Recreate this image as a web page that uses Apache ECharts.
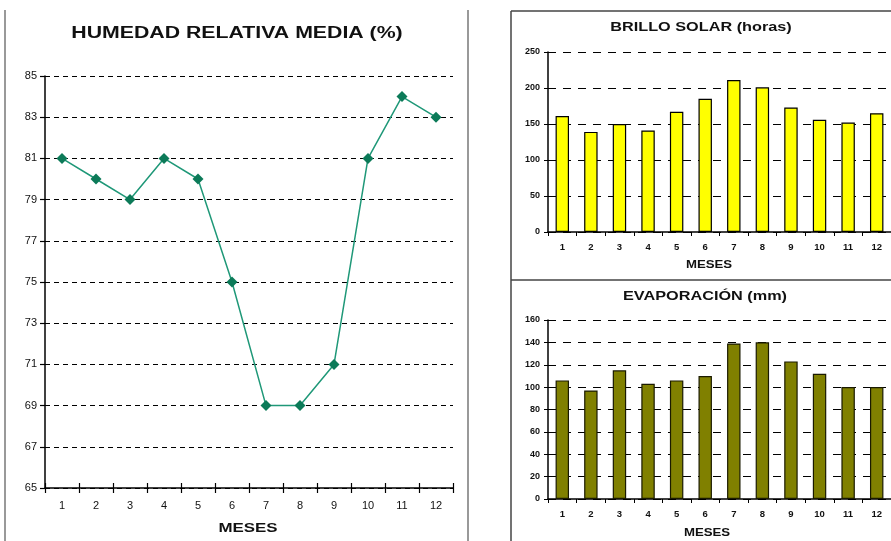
<!DOCTYPE html>
<html>
<head>
<meta charset="utf-8">
<script src="https://cdn.jsdelivr.net/npm/echarts@6/dist/echarts.min.js"></script>
<style>html,body{margin:0;padding:0;background:#fff;}#c{width:891px;height:541px;}</style>
</head>
<body>
<div id="c"></div>
<script>
const months = ['1','2','3','4','5','6','7','8','9','10','11','12'];
const humedad = [81, 80, 79, 81, 80, 75, 69, 69, 71, 81, 84, 83];
const brillo = [161, 139, 150, 141, 167, 185, 211, 201, 173, 156, 152, 165];
const evaporacion = [106, 97, 115, 103, 106, 110, 139, 140, 123, 112, 100, 100];
const humAxis = [65, 85, 2];
const brilloAxis = [0, 250, 50];
const evapAxis = [0, 160, 20];
const titles = ['HUMEDAD RELATIVA MEDIA (%)', 'BRILLO SOLAR (horas)', 'EVAPORACIÓN (mm)', 'MESES'];

const FONT = '"Liberation Sans", Arial, sans-serif';
const chart = echarts.init(document.getElementById('c'), null, {renderer: 'canvas'});

function yAx(gi, r, opts) {
  return Object.assign({
    type: 'value', gridIndex: gi, min: r[0], max: r[1], interval: r[2],
    axisLine: {show: true, lineStyle: {color: '#000', width: 1.5}},
    axisTick: {show: true, length: 5, lineStyle: {color: '#000', width: 1.2}},
    splitLine: {show: true, lineStyle: {color: '#000', type: [5, 4], width: 1.2}},
    axisLabel: {color: '#111', fontFamily: FONT, fontSize: 11, margin: 8}
  }, opts || {});
}
function xAx(gi, opts) {
  return Object.assign({
    type: 'category', gridIndex: gi, data: months, boundaryGap: true, position: 'bottom',
    axisLine: {show: true, lineStyle: {color: '#000', width: 1.5}},
    axisTick: {show: true, length: 5, lineStyle: {color: '#000', width: 1.2}},
    axisLabel: {color: '#111', fontFamily: FONT, fontSize: 11, margin: 12},
    splitLine: {show: false}
  }, opts || {});
}
function txt(t, x, y, size, sx) {
  return {type: 'text', x: x, y: y, scaleX: sx, silent: true,
    style: {text: t, font: 'bold ' + size + 'px ' + FONT, fill: '#111',
            textAlign: 'center', textVerticalAlign: 'middle'}};
}

const option = {
  backgroundColor: '#fff',
  animation: false,
  grid: [
    {left: 45, top: 76, width: 408, height: 412},
    {left: 548, top: 52, width: 346, height: 180},
    {left: 548, top: 320, width: 346, height: 179}
  ],
  xAxis: [
    xAx(0),
    xAx(0, {position: 'bottom', axisLine: {show: false}, axisLabel: {show: false},
            axisTick: {show: true, inside: true, length: 5, lineStyle: {color: '#000', width: 1.2}}}),
    xAx(1, {axisLabel: {color: '#111', fontFamily: FONT, fontSize: 9.5, fontWeight: 'bold', margin: 10},
            axisTick: {show: true, length: 4, lineStyle: {color: '#000'}}}),
    xAx(2, {axisLabel: {color: '#111', fontFamily: FONT, fontSize: 9.5, fontWeight: 'bold', margin: 10},
            axisTick: {show: true, length: 4, lineStyle: {color: '#000'}}})
  ],
  yAxis: [
    yAx(0, humAxis),
    yAx(1, brilloAxis, {
      axisTick: {show: true, length: 4, lineStyle: {color: '#000'}},
      splitLine: {show: true, lineStyle: {color: '#000', type: [8, 7], width: 1.2}},
      axisLabel: {color: '#111', fontFamily: FONT, fontSize: 9, fontWeight: 'bold', margin: 8}}),
    yAx(2, evapAxis, {
      axisTick: {show: true, length: 4, lineStyle: {color: '#000'}},
      splitLine: {show: true, lineStyle: {color: '#000', type: [8, 7], width: 1.2}},
      axisLabel: {color: '#111', fontFamily: FONT, fontSize: 9, fontWeight: 'bold', margin: 8}})
  ],
  series: [
    {type: 'line', xAxisIndex: 0, yAxisIndex: 0, data: humedad,
     symbol: 'diamond', symbolSize: 11,
     lineStyle: {color: '#1f9878', width: 1.5},
     itemStyle: {color: '#0c7a58', borderWidth: 0}},
    {type: 'bar', xAxisIndex: 2, yAxisIndex: 1, data: brillo, barWidth: '47%',
     itemStyle: {color: '#ffff00', borderColor: '#000', borderWidth: 1.2}},
    {type: 'bar', xAxisIndex: 3, yAxisIndex: 2, data: evaporacion, barWidth: '47%',
     itemStyle: {color: '#808000', borderColor: '#1a1a00', borderWidth: 1.2}}
  ],
  graphic: [
    {type: 'line', shape: {x1: 5, y1: 10, x2: 5, y2: 541}, style: {stroke: '#777', lineWidth: 1.5}},
    {type: 'line', shape: {x1: 468, y1: 10, x2: 468, y2: 541}, style: {stroke: '#777', lineWidth: 1.5}},
    {type: 'line', shape: {x1: 511, y1: 11, x2: 891, y2: 11}, style: {stroke: '#444', lineWidth: 1.5}},
    {type: 'line', shape: {x1: 511, y1: 11, x2: 511, y2: 541}, style: {stroke: '#444', lineWidth: 1.5}},
    {type: 'line', shape: {x1: 511, y1: 280, x2: 891, y2: 280}, style: {stroke: '#444', lineWidth: 1.5}},
    txt(titles[0], 237, 34, 16, 1.33),
    txt(titles[3], 248, 528, 13, 1.3),
    txt(titles[1], 701, 27, 13, 1.25),
    txt(titles[3], 709, 265, 11, 1.2),
    txt(titles[2], 705, 296, 13, 1.25),
    txt(titles[3], 707, 533, 11, 1.2)
  ]
};
chart.setOption(option);
</script>
</body>
</html>
